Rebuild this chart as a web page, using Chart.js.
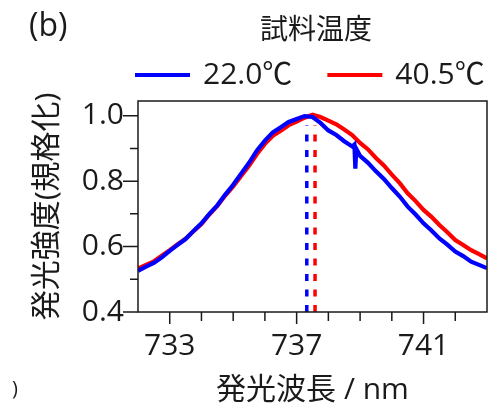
<!DOCTYPE html>
<html>
<head>
<meta charset="utf-8">
<script src="https://cdn.jsdelivr.net/npm/chart.js@4.4.1/dist/chart.umd.min.js"></script>
<style>
  html, body { margin: 0; padding: 0; background: #fff; }
</style>
</head>
<body>
<canvas id="spectrum" width="495" height="405"></canvas>
<script>
// wavelength grid (nm), 0.25 nm step
const wavelengths = [
  732.00, 732.25, 732.50, 732.75, 733.00, 733.25, 733.50, 733.75,
  734.00, 734.25, 734.50, 734.75, 735.00, 735.25, 735.50, 735.75,
  736.00, 736.25, 736.50, 736.75, 737.00, 737.25, 737.50, 737.75,
  738.00, 738.25, 738.50, 738.75, 739.00, 739.25, 739.50, 739.75,
  740.00, 740.25, 740.50, 740.75, 741.00, 741.25, 741.50, 741.75,
  742.00, 742.25, 742.50, 742.75, 743.00
];
// 22.0 C, normalised intensity
const temp22 = [
  0.526, 0.539, 0.550, 0.567, 0.587, 0.605, 0.623, 0.648,
  0.671, 0.700, 0.726, 0.759, 0.789, 0.823, 0.856, 0.894,
  0.924, 0.949, 0.965, 0.981, 0.990, 0.999, 0.996, 0.978,
  0.955, 0.941, 0.922, 0.906, 0.877, 0.856, 0.830, 0.807,
  0.779, 0.753, 0.722, 0.698, 0.671, 0.649, 0.625, 0.606,
  0.585, 0.571, 0.554, 0.544, 0.534
];
// glitch in the 22.0 C trace
const glitchX = [738.82, 738.85, 738.88];
const glitchY = [0.912, 0.838, 0.899];
// 40.5 C, normalised intensity
const temp40 = [
  0.533, 0.544, 0.555, 0.572, 0.589, 0.607, 0.624, 0.647,
  0.669, 0.698, 0.724, 0.756, 0.784, 0.816, 0.847, 0.883,
  0.914, 0.939, 0.954, 0.971, 0.982, 0.994, 1.003, 0.996,
  0.985, 0.974, 0.958, 0.941, 0.917, 0.897, 0.871, 0.848,
  0.820, 0.794, 0.763, 0.739, 0.712, 0.691, 0.666, 0.644,
  0.620, 0.605, 0.589, 0.577, 0.564
];
const peakWavelengths = [737.32, 737.58];
const peakLineSpan = [0.4, 0.97];

const legendTitle = '試料温度';
const seriesLabels = ['22.0\u2103', '40.5\u2103'];
const seriesColors = ['rgb(0, 0, 255)', 'rgb(255, 0, 0)'];

const xTickMarks = [733, 734, 735, 736, 737, 738, 739, 740, 741, 742];
const xLabelValues = [733, 737, 741];
const yTickMarks = [0.4, 0.5, 0.6, 0.7, 0.8, 0.9, 1.0];
const yLabelValues = [0.4, 0.6, 0.8, 1.0];

const FONT = "'Open Sans', 'Noto Sans CJK JP', sans-serif";
const INK = '#1a1a1a';

const toPoints = (xs, ys) => xs.map((x, i) => ({ x: x, y: ys[i] }));
const bluePoints = toPoints(wavelengths, temp22)
  .concat(toPoints(glitchX, glitchY))
  .sort((a, b) => a.x - b.x);

// legend: title over two line samples
const legendBlock = {
  id: 'legendBlock',
  afterDraw(chart) {
    const ctx = chart.ctx;
    ctx.save();
    ctx.textBaseline = 'middle';
    ctx.fillStyle = INK;
    ctx.font = '28px ' + FONT;
    ctx.textAlign = 'center';
    ctx.fillText(legendTitle, 316, 31);
    ctx.textAlign = 'left';
    ctx.font = '30px ' + FONT;
    let x = 135;
    chart.data.datasets.filter(ds => ds.label).forEach(ds => {
      ctx.fillStyle = ds.borderColor;
      ctx.fillRect(x, 73, 55, 4);
      ctx.fillStyle = INK;
      ctx.fillText(ds.label, x + 68, 75);
      x += 68 + ctx.measureText(ds.label).width + 35;
    });
    ctx.restore();
  }
};

const frameAndTicks = {
  id: 'frameAndTicks',
  afterDraw(chart) {
    const { ctx, chartArea: a, scales: { x, y } } = chart;
    ctx.save();
    ctx.strokeStyle = INK;
    ctx.lineWidth = 1.5;
    ctx.strokeRect(a.left, a.top, a.right - a.left, a.bottom - a.top);
    ctx.beginPath();
    xTickMarks.forEach(v => {
      const px = x.getPixelForValue(v);
      const len = xLabelValues.includes(v) ? 12 : 9;
      ctx.moveTo(px, a.bottom);
      ctx.lineTo(px, a.bottom + len);
    });
    yTickMarks.forEach(v => {
      const py = y.getPixelForValue(v);
      const len = yLabelValues.includes(v) ? 15 : 8;
      ctx.moveTo(a.left, py);
      ctx.lineTo(a.left - len, py);
    });
    ctx.stroke();
    ctx.fillStyle = INK;
    ctx.textBaseline = 'middle';
    ctx.font = '32px ' + FONT;
    ctx.fillText('(b)', 29, 27);
    ctx.font = '20px ' + FONT;
    ctx.fillText(')', 12, 389);
    ctx.restore();
  }
};

const peakLine = (wl, color) => ({
  data: peakLineSpan.map(v => ({ x: wl, y: v })),
  borderColor: color,
  borderWidth: 3.5,
  borderDash: [7, 8.5],
  pointRadius: 0
});

const ctx = document.getElementById('spectrum').getContext('2d');
Chart.defaults.font.family = FONT;
Chart.defaults.color = INK;

new Chart(ctx, {
  type: 'line',
  data: {
    datasets: [
      {
        label: seriesLabels[0],
        data: bluePoints,
        borderColor: seriesColors[0],
        backgroundColor: seriesColors[0],
        borderWidth: 4.2,
        pointRadius: 0,
        tension: 0
      },
      {
        label: seriesLabels[1],
        data: toPoints(wavelengths, temp40),
        borderColor: seriesColors[1],
        backgroundColor: seriesColors[1],
        borderWidth: 4.2,
        pointRadius: 0,
        tension: 0
      },
      peakLine(peakWavelengths[0], seriesColors[0]),
      peakLine(peakWavelengths[1], seriesColors[1])
    ]
  },
  options: {
    responsive: false,
    animation: false,
    layout: { padding: { left: 0, right: 8, top: 101, bottom: 0 } },
    plugins: {
      tooltip: { enabled: false },
      legend: { display: false }
    },
    scales: {
      x: {
        type: 'linear',
        min: 732,
        max: 743,
        afterBuildTicks: s => { s.ticks = xLabelValues.map(v => ({ value: v })); },
        afterFit: s => { s.height = 93; },
        grid: { display: false, drawTicks: false },
        border: { display: false },
        ticks: { padding: 16, font: { size: 30 }, callback: v => String(v) },
        title: {
          display: true,
          text: '発光波長 / nm',
          font: { size: 30, lineHeight: 1 },
          padding: { top: 0, bottom: 0 }
        }
      },
      y: {
        min: 0.4,
        max: 1.045,
        afterBuildTicks: s => { s.ticks = yLabelValues.map(v => ({ value: v })); },
        afterFit: s => { s.width = 138; },
        grid: { display: false, drawTicks: false },
        border: { display: false },
        ticks: { padding: 14, font: { size: 30 }, callback: v => v.toFixed(1) },
        title: {
          display: true,
          text: '発光強度(規格化)',
          font: { size: 30 },
          padding: { top: 29, bottom: 0 }
        }
      }
    }
  },
  plugins: [legendBlock, frameAndTicks]
});
</script>
</body>
</html>
